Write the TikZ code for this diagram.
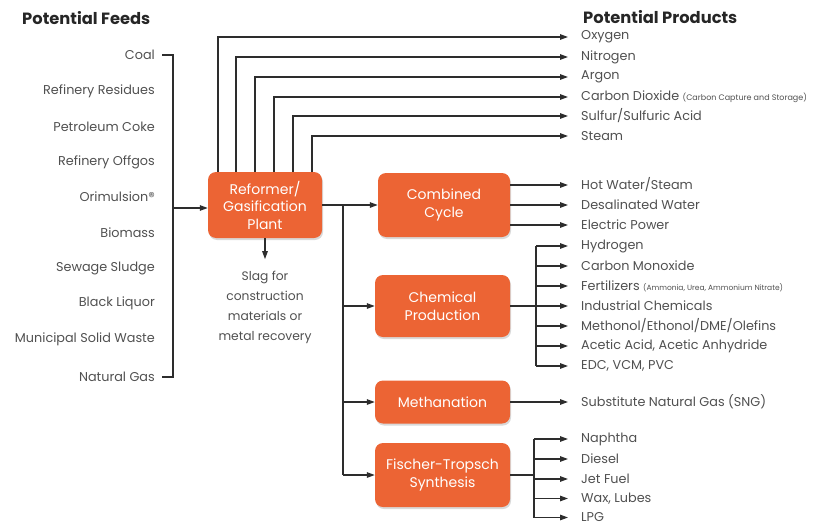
\documentclass[tikz,border=0pt]{standalone}
\usepackage{fontspec}
\setmainfont{Poppins}
\usetikzlibrary{arrows.meta,shadows}
\definecolor{boxorange}{RGB}{236,100,52}
\definecolor{txt}{RGB}{80,80,80}
\definecolor{ln}{RGB}{45,45,45}
\begin{document}
\begin{tikzpicture}[x=1pt,y=-1pt,
  every node/.style={font=\fontsize{12.8}{14}\selectfont, text=txt},
  title/.style={anchor=west, inner sep=0pt, font=\fontsize{16.3}{18}\selectfont\bfseries, text=black!85},
  feed/.style={anchor=east, inner sep=0pt},
  prod/.style={anchor=west, inner ysep=0pt, inner xsep=13pt},
  procbox/.style={draw=none, fill=boxorange, rounded corners=8pt, text=white,
     align=center, font=\fontsize{14}{17.5}\selectfont,
     drop shadow={shadow xshift=1pt, shadow yshift=-2pt, opacity=0.3}},
  conn/.style={draw=ln, line width=1.3pt},
  arr/.style={conn, -{Triangle[length=8pt,width=5.5pt]}},
]
\useasboundingbox (0,0) rectangle (824,527);

% titles
\node[title] (tfeeds) at (22,18) {Potential Feeds};
\node[title] (tprods) at (583,17) {Potential Products};

% feeds
\node[feed] (f1) at (155,55) {Coal};
\node[feed] (f2) at (155,91) {Refinery Residues};
\node[feed] (f3) at (155,127) {Petroleum Coke};
\node[feed] (f4) at (155,162) {Refinery Offgos};
\node[feed] (f5) at (155,197) {Orimulsion®};
\node[feed] (f6) at (155,233) {Biomass};
\node[feed] (f7) at (155,268) {Sewage Sludge};
\node[feed] (f8) at (155,303) {Black Liquor};
\node[feed] (f9) at (155,339) {Municipal Solid Waste};
\node[feed] (f10) at (155,377) {Natural Gas};

% process boxes
\node[procbox, minimum width=114pt, minimum height=66pt] (plant) at (265,205) {Reformer/\\Gasification\\Plant};
\node[procbox, minimum width=132pt, minimum height=64pt] (cc) at (444,205) {Combined\\Cycle};
\node[procbox, minimum width=135pt, minimum height=62pt] (chem) at (442.5,306) {Chemical\\Production};
\node[procbox, minimum width=135pt, minimum height=43pt] (meth) at (442.5,402) {Methanation};
\node[procbox, minimum width=135pt, minimum height=64pt] (ft) at (442.5,475) {Fischer-Tropsch\\Synthesis};

% slag
\node[align=center, anchor=north, inner sep=0pt, font=\fontsize{12.3}{20}\selectfont] (slag) at (265,271) {Slag for\\construction\\materials or\\metal recovery};

% products (top)
\node[prod] (p1) at (568,37) {Oxygen};
\node[prod] (p2) at (568,57) {Nitrogen};
\node[prod] (p3) at (568,77) {Argon};
\node[prod] (p4) at (568,97) {Carbon Dioxide {\fontsize{8}{9}\selectfont(Carbon Capture and Storage)}};
\node[prod] (p5) at (568,116) {Sulfur/Sulfuric Acid};
\node[prod] (p6) at (568,136) {Steam};

% combined cycle products
\node[prod] (o1) at (568,185) {Hot Water/Steam};
\node[prod] (o2) at (568,205) {Desalinated Water};
\node[prod] (o3) at (568,225) {Electric Power};

% chemical products
\node[prod] (c1) at (568,246) {Hydrogen};
\node[prod] (c2) at (568,266) {Carbon Monoxide};
\node[prod] (c3) at (568,286) {Fertilizers {\fontsize{7.5}{9}\selectfont(Ammonia, Urea, Ammonium Nitrate)}};
\node[prod] (c4) at (568,306) {Industrial Chemicals};
\node[prod] (c5) at (568,326) {Methonol/Ethonol/DME/Olefins};
\node[prod] (c6) at (568,346) {Acetic Acid, Acetic Anhydride};
\node[prod] (c7) at (568,366) {EDC, VCM, PVC};

% methanation product
\node[prod] (m1) at (568,402) {Substitute Natural Gas (SNG)};

% FT products
\node[prod] (s1) at (568,439) {Naphtha};
\node[prod] (s2) at (568,459) {Diesel};
\node[prod] (s3) at (568,479) {Jet Fuel};
\node[prod] (s4) at (568,498.5) {Wax, Lubes};
\node[prod] (s5) at (568,517.5) {LPG};

% helper coordinates
\coordinate (bt) at (173,55);
\coordinate (bb) at (173,377);
\coordinate (bj) at (173,208);
\coordinate (u1) at (218,0);
\coordinate (u2) at (236,0);
\coordinate (u3) at (255,0);
\coordinate (u4) at (274,0);
\coordinate (u5) at (293,0);
\coordinate (u6) at (312,0);
\coordinate (tj) at (343,205);
\coordinate (tb) at (343,475);
\coordinate (cj) at (536,306);
\coordinate (fj) at (534,475);

% feeds bracket
\draw[conn] ([xshift=7pt]f1.east) -- (bt) -- (bb) -- ([xshift=7pt]f10.east);
\draw[arr] (bj) -- (plant.west |- bj);

% top products
\draw[arr] (plant.north -| u1) |- (p1);
\draw[arr] (plant.north -| u2) |- (p2);
\draw[arr] (plant.north -| u3) |- (p3);
\draw[arr] (plant.north -| u4) |- (p4.west);
\draw[arr] (plant.north -| u5) |- (p5);
\draw[arr] (plant.north -| u6) |- (p6);

% slag
\draw[arr] (plant.south) -- ++(0,21);

% trunk
\draw[conn] (plant.east) -- (tj) -- (tb);
\draw[arr] (tj) -- (cc.west);
\draw[arr] (tj |- chem) -- (chem.west);
\draw[arr] (tj |- meth) -- (meth.west);
\draw[arr] (tb) -- (ft.west);

% combined cycle outputs
\draw[arr] (cc.east |- o1) -- (o1);
\draw[arr] (cc.east |- o2) -- (o2);
\draw[arr] (cc.east |- o3) -- (o3);

% chemical outputs
\draw[conn] (chem.east) -- (cj);
\draw[conn] (cj |- c1) -- (cj |- c7);
\foreach \n in {c1,c2,c3,c4,c5,c6,c7}{\draw[arr] (cj |- \n) -- (\n.west);}

% methanation output
\draw[arr] (meth.east) -- (m1);

% FT outputs
\draw[conn] (ft.east) -- (fj);
\draw[conn] (fj |- s1) -- (fj |- s5);
\foreach \n in {s1,s2,s3,s4,s5}{\draw[arr] (fj |- \n) -- (\n.west);}
\end{tikzpicture}
\end{document}
